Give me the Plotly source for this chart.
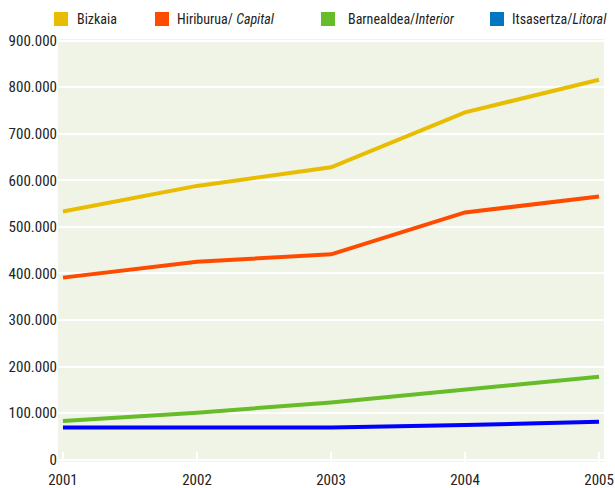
import plotly.graph_objects as go

years = [2001, 2002, 2003, 2004, 2005]
bizkaia = [533000, 588000, 628000, 746000, 816000]
capital = [391000, 425000, 441000, 531000, 565000]
interior = [83000, 101000, 123000, 150000, 178000]
litoral = [69000, 69000, 69000, 74500, 81500]

y_ticks = [0, 100000, 200000, 300000, 400000, 500000, 600000, 700000, 800000, 900000]

series = [
    ("Bizkaia", bizkaia, "#E8BC00", "#E8BC00", "Bizkaia"),
    ("Capital", capital, "#FF4B00", "#FF4B00", "Hiriburua/ <i>Capital</i>"),
    ("Interior", interior, "#66BC29", "#66BC29", "Barnealdea/<i>Interior</i>"),
    ("Litoral", litoral, "#0000FF", "#0077C0", "Itsasertza/<i>Litoral</i>"),
]

FONT = "Roboto Condensed, Roboto, sans-serif"

W, H = 615, 488
ml, mr, mt, mb = 58, 11, 39, 26
pw, ph = W - ml - mr, H - mt - mb

fig = go.Figure()
for name, vals, lc, _, _ in series:
    fig.add_trace(go.Scatter(x=years, y=vals, mode="lines", name=name,
                             line=dict(color=lc, width=4), showlegend=False))

# custom legend (pixel positions converted to paper coords)
leg_sq = [54, 155, 321, 490]
leg_tx = [77, 177, 348, 512]
shapes = []
annotations = []
for (name, vals, lc, sc, label), sx, tx in zip(series, leg_sq, leg_tx):
    ytop = 1 + (mt - 12) / ph
    ybot = 1 + (mt - 26) / ph
    shapes.append(dict(type="rect", xref="paper", yref="paper",
                       x0=(sx - ml) / pw, x1=(sx + 14 - ml) / pw,
                       y0=ybot, y1=ytop, fillcolor=sc, line=dict(width=0)))
    annotations.append(dict(xref="paper", yref="paper", x=(tx - ml) / pw,
                            y=(ytop + ybot) / 2, text=label, showarrow=False,
                            xanchor="left", yanchor="middle", xshift=-2,
                            font=dict(family=FONT, size=14, color="#222")))

fig.update_layout(
    width=W, height=H,
    margin=dict(l=ml, r=mr, t=mt, b=mb),
    paper_bgcolor="white",
    plot_bgcolor="#EFF4E6",
    separators=",.",
    font=dict(family=FONT, size=15, color="#222"),
    shapes=shapes,
    annotations=annotations,
    xaxis=dict(range=[2001 - 0.037, 2005 + 0.037], tickvals=years,
               ticktext=[str(y) for y in years], showgrid=False, zeroline=False,
               ticks="inside", ticklen=10, tickcolor="white", tickwidth=2,
               showline=False, tickfont=dict(size=15), automargin=False,
               ticklabeloverflow="allow", ticklabelstandoff=7),
    yaxis=dict(range=[-5000, 903500], tickvals=y_ticks, tickformat=",d",
               showgrid=True, gridcolor="white", gridwidth=2, zeroline=False,
               ticks="", showline=False, tickfont=dict(size=15), automargin=False,
               ticklabeloverflow="allow"),
)

fig.write_html("out.html", config={"displayModeBar": False},
               post_script="document.body.style.margin='0';document.body.style.overflow='hidden';")
